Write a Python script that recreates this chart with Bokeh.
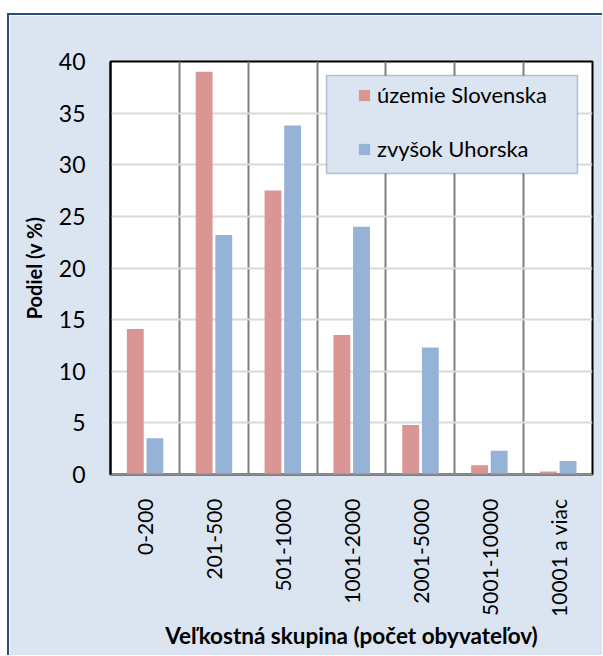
import math
from bokeh.plotting import figure
from bokeh.models import (ColumnDataSource, Range1d, FixedTicker, Legend, LegendItem,
                          BoxAnnotation)
from bokeh.embed import file_html
from bokeh.resources import INLINE

# ---- data ----
categories = ["0-200", "201-500", "501-1000", "1001-2000", "2001-5000", "5001-10000", "10001 a viac"]
slovensko = [14.1, 39.0, 27.5, 13.5, 4.8, 0.9, 0.3]
zvysok_uhorska = [3.5, 23.2, 33.8, 24.0, 12.3, 2.3, 1.3]
series_names = ["územie Slovenska", "zvyšok Uhorska"]
y_ticks = [0, 5, 10, 15, 20, 25, 30, 35, 40]
x_title = "Veľkostná skupina (počet obyvateľov)"
y_title = "Podiel (v %)"

FONT = "Lato"
BG = "#DBE5F1"
RED = "#D99694"
BLUE = "#95B3D7"

n = len(categories)
centers = [i + 0.5 for i in range(n)]
src = ColumnDataSource(dict(
    x_red=[c - 0.14 for c in centers],
    x_blue=[c + 0.145 for c in centers],
    red=slovensko,
    blue=zvysok_uhorska,
))

p = figure(frame_width=482, frame_height=413,
           x_range=Range1d(0, n), y_range=Range1d(0, 40),
           output_backend="svg", toolbar_location=None,
           min_border_left=101, min_border_right=10,
           min_border_top=46, min_border_bottom=181)
p.margin = (13, 0, 0, 7)
p.styles = {"border-left": "2px solid #2C4D75", "border-top": "2px solid #2C4D75"}

p.background_fill_color = "white"
p.border_fill_color = BG
p.outline_line_color = "black"
p.outline_line_width = 2

r1 = p.vbar(x="x_red", top="red", width=0.245, source=src, fill_color=RED, line_color=None)
r2 = p.vbar(x="x_blue", top="blue", width=0.245, source=src, fill_color=BLUE, line_color=None)

# grids
p.ygrid.ticker = FixedTicker(ticks=y_ticks)
p.ygrid.grid_line_color = "#D9D9D9"
p.ygrid.grid_line_width = 2
p.xgrid.ticker = FixedTicker(ticks=list(range(1, n)))
p.xgrid.grid_line_color = "#7F7F7F"
p.xgrid.grid_line_width = 2

# axes
xa = p.xaxis[0]
xa.ticker = FixedTicker(ticks=centers)
xa.major_label_overrides = {c: lab for c, lab in zip(centers, categories)}
xa.major_label_orientation = math.pi / 2
xa.major_tick_in = 0
xa.major_tick_out = 0
xa.minor_tick_line_color = None
xa.axis_line_color = "#8C8C8C"
xa.axis_line_width = 2
xa.major_label_standoff = 24
xa.major_label_text_font = FONT
xa.major_label_text_font_size = "21px"
xa.major_label_text_color = "black"
xa.axis_label = x_title
xa.axis_label_text_font = FONT
xa.axis_label_text_font_size = "22.5px"
xa.axis_label_text_font_style = "bold"
xa.axis_label_text_color = "black"
xa.axis_label_standoff = 2

ya = p.yaxis[0]
ya.ticker = FixedTicker(ticks=y_ticks)
ya.major_tick_in = 0
ya.major_tick_out = 0
ya.minor_tick_line_color = None
ya.axis_line_color = "black"
ya.axis_line_width = 2
ya.major_label_standoff = 25
ya.major_label_text_font = FONT
ya.major_label_text_font_size = "23px"
ya.major_label_text_color = "black"
ya.axis_label = y_title
ya.axis_label_text_font = FONT
ya.axis_label_text_font_size = "20px"
ya.axis_label_text_font_style = "bold"
ya.axis_label_text_color = "black"
ya.axis_label_standoff = 10

# legend box
box = BoxAnnotation(left=3.137, right=6.782, top=38.64, bottom=29.15,
                    fill_color=BG, fill_alpha=1.0,
                    line_color="#2C4D75", line_width=1.5, level="annotation")
p.add_layout(box)

legend = Legend(items=[LegendItem(label=series_names[0], renderers=[r1]),
                       LegendItem(label=series_names[1], renderers=[r2])],
                location=(247, 312), padding=0, margin=0,
                background_fill_alpha=0, border_line_color=None,
                glyph_width=14, glyph_height=14, label_standoff=6,
                label_height=24, spacing=27,
                label_text_font=FONT, label_text_font_size="22px",
                label_text_color="black")
p.add_layout(legend)

open("out.html", "w").write(file_html(p, INLINE))
